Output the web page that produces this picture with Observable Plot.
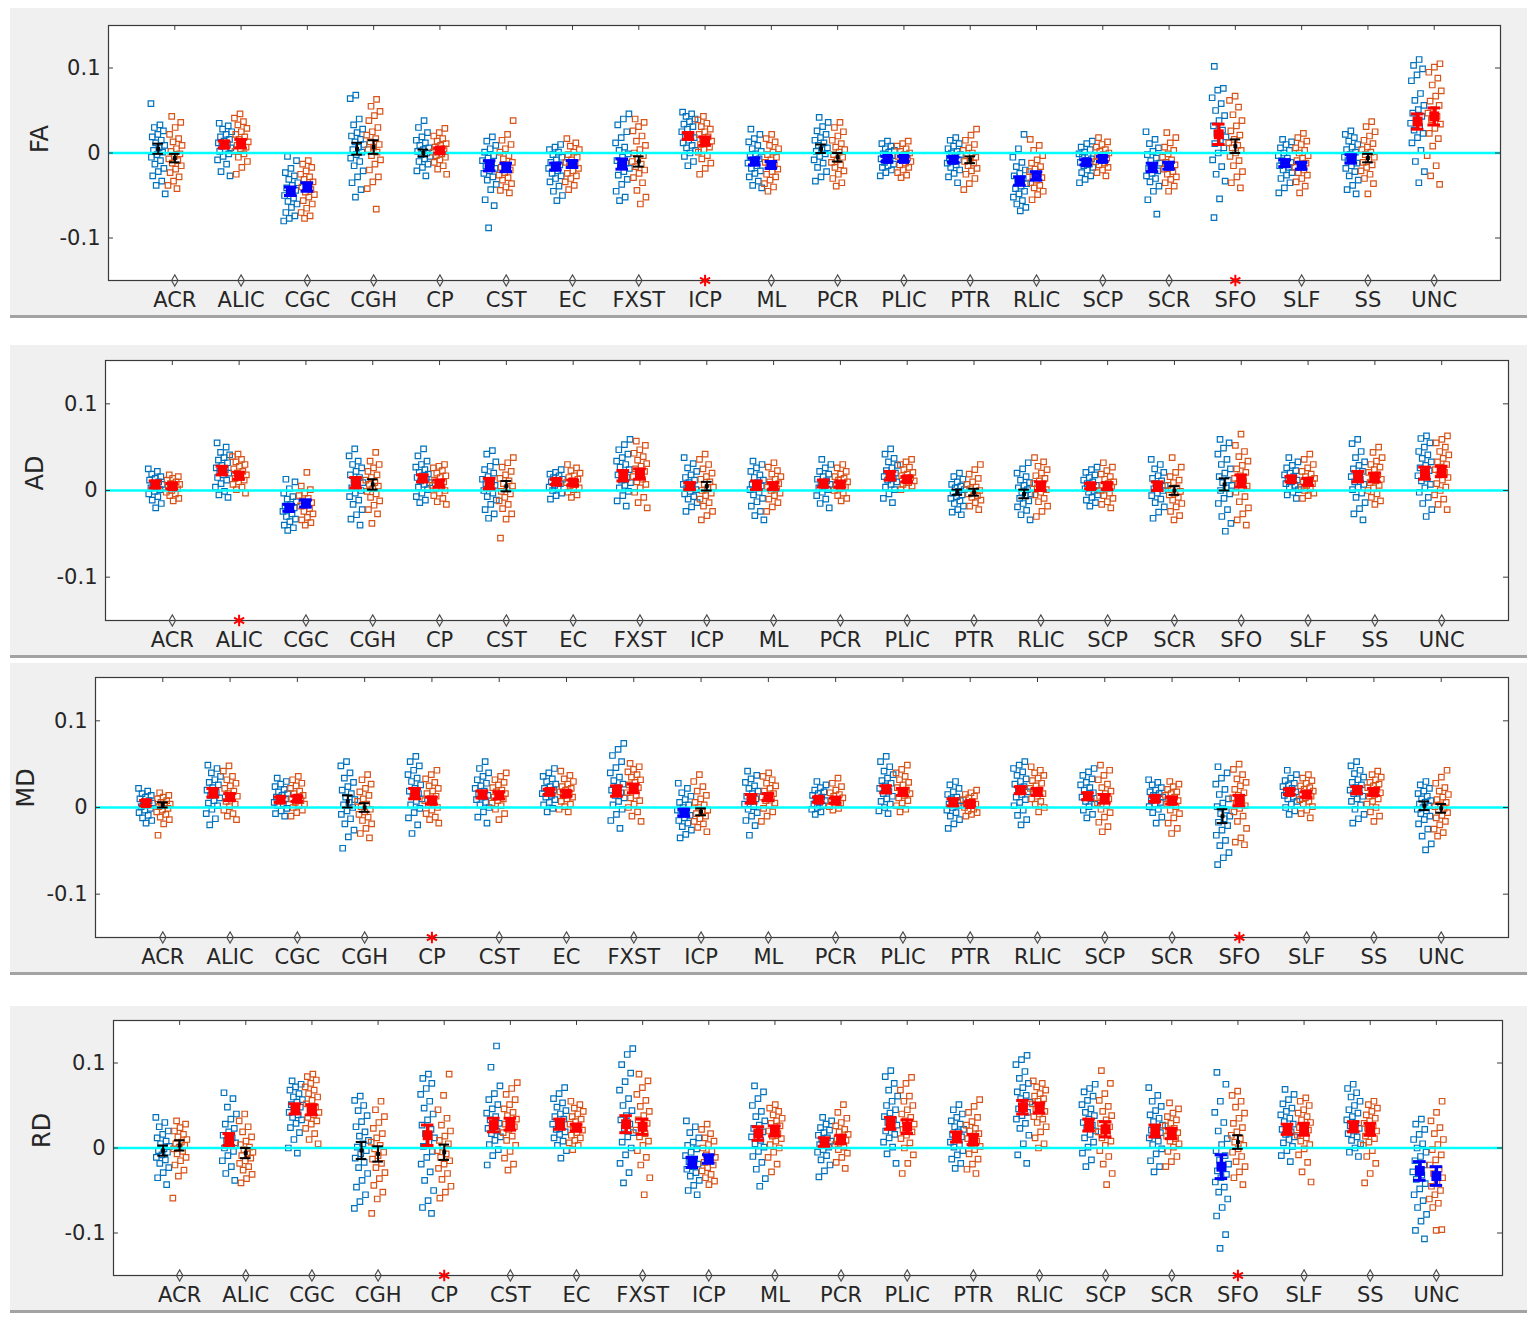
<!DOCTYPE html>
<html><head><meta charset="utf-8">
<script src="https://cdn.jsdelivr.net/npm/d3@7"></script>
<script src="https://cdn.jsdelivr.net/npm/@observablehq/plot@0.6"></script>
<style>
body{margin:0;background:#fff;}
#page{position:relative;width:1535px;height:1323px;overflow:hidden;font-family:"DejaVu Sans",sans-serif;}
.panel{position:absolute;left:10px;width:1517px;background:#f0f0f0;border-bottom:3px solid #a3a3a3;}
.panel svg{display:block;}
</style></head><body><div id="page"></div>
<script>
const categories = ["ACR","ALIC","CGC","CGH","CP","CST","EC","FXST","ICP","ML","PCR","PLIC","PTR","RLIC","SCP","SCR","SFO","SLF","SS","UNC"];
const yTicks = [-0.1, 0, 0.1];
const yTickLabels = ["-0.1", "0", "0.1"];
const measures = ["FA", "AD", "MD", "RD"];

// all values in thousandths; group1 = blue (left), group2 = orange (right)
const FA_group1 = [
 [58,33,30,26,22,19,15,12,9,6,3,1,-2,-5,-9,-13,-18,-22,-27,-33,-38,-48],
 [35,32,28,25,22,19,16,14,12,10,8,6,4,2,-1,-4,-8,-13,-22,-27],
 [-4,-9,-18,-23,-27,-31,-35,-38,-41,-44,-47,-50,-53,-57,-60,-64,-70,-74,-77,-80],
 [68,64,40,33,28,24,20,16,13,10,7,4,1,-2,-6,-10,-15,-21,-28,-35,-43,-52],
 [38,30,24,19,15,12,9,6,4,2,0,-2,-4,-7,-10,-13,-17,-21,-27],
 [19,14,9,5,1,-3,-6,-9,-12,-15,-18,-21,-24,-28,-32,-37,-43,-55,-62,-88],
 [10,7,4,1,-2,-5,-8,-11,-14,-16,-18,-21,-24,-27,-30,-34,-39,-45,-50,-56],
 [46,40,33,25,18,12,7,3,-1,-5,-9,-12,-15,-18,-22,-26,-31,-37,-45,-52,-56],
 [48,46,43,40,37,34,31,28,25,22,20,18,15,12,9,6,3,0,-4,-10,-15],
 [28,22,17,13,9,5,2,-1,-4,-7,-10,-12,-15,-18,-21,-24,-28,-33,-38,-41],
 [42,36,31,26,22,18,15,12,9,6,4,2,-1,-4,-8,-12,-17,-22,-28,-33],
 [14,11,8,5,3,1,-1,-3,-5,-7,-9,-11,-13,-15,-17,-20,-23,-27],
 [18,15,11,8,5,2,0,-2,-4,-6,-8,-10,-12,-14,-17,-20,-24,-28,-35],
 [22,5,-5,-11,-16,-20,-24,-27,-30,-33,-36,-39,-42,-45,-48,-52,-56,-60,-64,-68],
 [14,11,7,4,1,-1,-3,-5,-7,-9,-11,-13,-15,-17,-20,-23,-27,-31,-35],
 [25,16,11,6,2,-2,-6,-9,-12,-15,-18,-21,-24,-27,-30,-34,-39,-45,-55,-72],
 [102,76,74,65,58,50,44,38,32,27,23,19,15,11,6,0,-8,-16,-25,-33,-54,-76],
 [16,13,10,6,3,0,-3,-6,-9,-11,-13,-15,-17,-20,-23,-26,-30,-35,-41,-47],
 [26,22,18,14,10,7,4,1,-2,-5,-7,-9,-12,-15,-18,-22,-27,-32,-38,-43,-48],
 [110,103,99,92,85,70,62,56,51,47,43,39,35,31,27,23,18,12,3,-10,-22,-35]
];
const FA_group2 = [
 [43,36,30,22,17,13,9,5,2,-1,-4,-7,-9,-12,-15,-19,-23,-28,-33,-38,-42],
 [46,41,37,33,29,25,22,19,16,13,11,9,7,5,2,-1,-5,-10,-17,-25],
 [-9,-13,-17,-21,-25,-28,-31,-34,-37,-40,-43,-46,-49,-52,-56,-60,-65,-70,-74,-77],
 [63,55,49,44,38,30,25,21,17,13,10,7,4,1,-3,-8,-13,-20,-28,-34,-42,-66],
 [29,24,20,17,14,11,9,7,5,3,1,-1,-3,-5,-8,-11,-15,-19,-25],
 [38,22,15,10,5,1,-3,-7,-11,-14,-17,-20,-23,-26,-29,-32,-36,-40,-44,-47],
 [17,12,8,4,1,-2,-5,-8,-11,-13,-15,-18,-21,-24,-27,-30,-34,-38,-43],
 [40,36,31,26,20,14,9,4,0,-3,-7,-10,-13,-16,-20,-24,-29,-35,-44,-52,-60],
 [43,39,35,31,28,25,22,19,16,14,12,10,7,4,1,-3,-7,-12,-18,-25],
 [22,17,13,9,5,1,-2,-5,-8,-11,-14,-16,-19,-22,-25,-28,-32,-36,-40,-45],
 [36,30,25,20,15,11,7,4,1,-2,-5,-8,-11,-14,-17,-21,-25,-30,-35,-39],
 [14,11,8,5,2,0,-2,-4,-6,-8,-10,-12,-14,-17,-20,-23,-26,-29],
 [28,21,15,10,6,3,0,-3,-5,-8,-10,-12,-15,-18,-21,-25,-30,-36,-43],
 [16,9,3,-3,-8,-12,-16,-19,-22,-25,-27,-29,-32,-35,-38,-41,-45,-49,-55],
 [18,13,10,7,4,2,0,-2,-4,-6,-8,-10,-12,-14,-17,-20,-23,-27],
 [24,18,12,7,3,-1,-5,-8,-11,-14,-16,-19,-22,-25,-28,-31,-35,-39,-45],
 [67,62,54,45,38,32,26,21,16,12,9,6,3,0,-4,-9,-15,-22,-28,-35,-41],
 [23,18,14,10,6,3,0,-3,-6,-9,-12,-15,-17,-20,-23,-26,-30,-34,-39,-47],
 [37,31,25,20,15,11,7,4,1,-2,-5,-8,-11,-14,-17,-21,-25,-30,-36,-48],
 [105,101,95,88,80,73,67,61,56,51,47,43,39,34,29,23,17,8,-3,-15,-27,-37]
];
const FA_mean1 = [5,10,-45,5,0,-15,-16,-13,20,-10,5,-7,-8,-33,-11,-17,22,-12,-7,37];
const FA_mean2 = [-6,11,-40,7,3,-17,-13,-10,14,-14,-5,-7,-8,-27,-7,-15,8,-15,-6,43];
const FA_se1 = [6,4,5,7,4,6,4,6,4,4,5,3,3,5,3,5,12,4,5,9];
const FA_se2 = [5,5,5,8,3,5,4,6,5,4,5,3,4,5,3,4,8,4,5,10];
const FA_sig1 = ["k","r","b","k","k","b","b","b","r","b","k","b","b","b","b","b","r","b","b","r"];
const FA_sig2 = ["k","r","b","k","r","b","b","k","r","b","k","b","k","b","b","b","k","b","k","r"];
const FA_starred = ["ICP","SFO"];

const AD_group1 = [
 [25,22,19,16,14,12,10,8,7,5,3,1,-1,-4,-7,-11,-15,-20],
 [55,50,44,41,38,35,32,29,26,24,22,20,18,15,12,8,4,-1,-5,-8],
 [13,10,2,-3,-7,-10,-13,-16,-18,-20,-22,-24,-27,-30,-33,-36,-40,-43,-46],
 [48,40,34,30,26,22,18,15,12,9,6,3,0,-3,-7,-11,-16,-22,-28,-33,-40],
 [48,40,34,30,27,24,21,19,17,15,13,11,9,7,4,1,-3,-7,-11,-14],
 [46,42,33,28,24,20,16,13,10,8,6,3,0,-3,-7,-11,-16,-22,-27,-32],
 [24,21,19,17,15,13,11,10,8,6,4,2,0,-3,-6,-10],
 [59,53,47,42,38,34,30,27,24,21,18,15,12,9,6,3,-1,-6,-12,-18],
 [38,31,26,22,18,15,12,9,7,5,3,1,-1,-4,-7,-10,-14,-19,-24],
 [34,30,26,22,18,15,12,9,7,5,3,1,-2,-5,-9,-13,-18,-24,-29,-34],
 [36,30,26,22,19,16,13,11,9,7,5,3,1,-2,-6,-10,-15,-20],
 [48,42,37,33,29,26,23,20,18,16,14,12,10,7,4,1,-4,-9,-14],
 [20,16,13,10,7,5,3,1,-1,-3,-5,-7,-9,-12,-15,-18,-22,-25,-28],
 [32,25,20,16,12,9,6,3,1,-2,-4,-6,-9,-12,-15,-19,-23,-28,-34],
 [27,24,21,18,15,12,10,8,6,4,2,0,-2,-5,-8,-11,-14,-18],
 [36,30,25,21,17,14,11,8,6,4,2,0,-3,-6,-10,-14,-19,-25,-32],
 [59,55,49,42,36,30,25,20,16,12,9,6,3,0,-4,-9,-15,-22,-30,-38,-47],
 [38,33,29,26,23,20,18,16,14,12,10,8,6,4,1,-2,-5,-9],
 [59,54,45,38,33,29,25,22,19,16,13,10,7,4,1,-3,-8,-14,-21,-27,-34],
 [63,60,55,50,45,41,37,33,29,26,23,20,17,14,11,7,3,-2,-8,-15,-22,-30]
];
const AD_group2 = [
 [18,16,14,12,10,8,7,5,4,2,0,-2,-4,-6,-9,-12],
 [42,39,36,33,30,28,25,22,20,18,16,14,12,10,7,4,1,-3],
 [21,5,1,-3,-6,-9,-12,-14,-16,-18,-21,-24,-27,-31,-34,-37,-40],
 [44,34,30,26,22,18,15,12,9,7,5,2,-1,-4,-8,-12,-17,-22,-27,-38],
 [30,28,26,23,20,17,15,12,10,8,6,4,2,0,-3,-6,-9,-13,-16],
 [38,32,27,22,18,14,11,8,5,2,-1,-4,-8,-12,-16,-21,-27,-33,-55],
 [30,26,23,20,17,15,13,11,9,7,5,3,1,-2,-5,-8],
 [57,52,47,43,39,35,31,28,25,22,19,16,13,10,7,3,-2,-8,-14,-20],
 [42,36,30,25,20,16,13,10,7,4,2,0,-3,-6,-10,-14,-18,-24,-29,-34],
 [32,27,23,19,16,13,10,8,6,4,2,0,-3,-6,-10,-14,-19,-24],
 [30,26,22,19,16,14,12,10,8,6,4,2,0,-3,-6,-9,-12],
 [36,33,30,27,24,21,19,17,15,13,11,9,7,5,3,1],
 [30,24,19,14,10,7,4,2,0,-2,-4,-6,-8,-11,-14,-18,-22],
 [38,33,28,24,20,17,14,11,8,5,3,1,-2,-5,-9,-13,-18,-24,-30],
 [32,27,23,19,16,13,10,8,6,4,2,0,-3,-6,-9,-13,-16,-20],
 [38,27,21,16,12,9,6,3,1,-1,-3,-5,-8,-11,-15,-19,-24,-29,-34],
 [65,52,45,39,34,29,25,21,17,14,11,8,5,2,-2,-7,-13,-20,-27,-34,-40],
 [42,36,30,26,22,19,16,14,12,10,8,6,4,2,0,-3,-6,-9],
 [50,44,38,34,30,27,24,21,18,15,13,11,9,6,3,0,-4,-8,-12,-16],
 [63,59,55,50,45,41,37,33,30,27,24,21,18,15,12,8,4,0,-5,-10,-16,-22]
];
const AD_mean1 = [7,23,-20,9,14,8,10,17,5,6,8,17,-2,-4,5,5,7,13,16,20];
const AD_mean2 = [5,17,-15,7,8,5,9,19,5,5,7,13,-2,5,5,0,11,10,15,22];
const AD_se1 = [4,5,4,6,4,6,3,6,4,5,4,5,3,5,3,5,7,3,6,7];
const AD_se2 = [3,4,4,6,4,6,3,6,5,4,3,3,4,5,4,5,7,4,5,6];
const AD_sig1 = ["r","r","b","r","r","r","r","r","r","r","r","r","k","k","r","r","k","r","r","r"];
const AD_sig2 = ["r","r","b","k","r","k","r","r","k","r","r","r","k","r","r","k","r","r","r","r"];
const AD_starred = ["ALIC"];

const MD_group1 = [
 [22,19,16,14,12,10,8,6,5,3,1,-1,-3,-6,-9,-12,-15,-18],
 [49,45,40,36,32,29,26,23,20,17,14,11,8,5,2,-2,-7,-13,-20],
 [34,30,27,24,21,18,16,14,12,10,8,6,4,2,-1,-4,-7,-10],
 [53,48,40,34,29,24,20,16,12,9,6,3,0,-4,-8,-13,-19,-26,-34,-47],
 [59,53,48,43,38,34,30,26,22,19,16,13,10,7,3,-1,-6,-12,-20,-30],
 [53,45,40,36,32,28,25,22,19,16,14,12,9,6,3,0,-5,-11,-18],
 [45,40,36,33,30,27,24,22,20,18,16,14,12,9,6,3,-1,-5],
 [74,67,60,53,46,40,35,31,27,23,20,17,14,11,7,3,-2,-8,-15,-24],
 [28,22,17,13,9,6,3,0,-3,-5,-7,-9,-12,-15,-18,-22,-26,-31,-35],
 [42,37,33,29,25,22,19,16,13,10,7,4,1,-2,-6,-10,-15,-21,-32],
 [30,26,23,20,18,16,14,12,10,8,6,4,2,0,-2,-5,-8],
 [59,53,47,42,38,34,31,28,25,22,19,16,13,10,7,4,0,-4,-7],
 [30,26,22,18,15,12,10,8,6,4,2,0,-3,-6,-10,-14,-19,-24],
 [53,49,45,41,37,33,30,27,24,21,18,15,12,9,6,2,-3,-9,-14,-20],
 [45,41,37,33,29,26,23,20,17,14,12,10,7,4,1,-3,-8,-12],
 [32,29,26,23,20,18,16,14,12,10,8,6,4,1,-2,-6,-11,-18],
 [47,40,34,27,21,15,10,5,1,-3,-7,-10,-13,-17,-21,-26,-32,-38,-44,-52,-58,-66],
 [43,38,34,31,28,26,24,22,20,18,16,14,12,10,7,4,0,-4,-8],
 [53,48,43,39,35,32,29,26,23,20,18,16,13,10,7,3,-2,-8,-13,-18],
 [30,26,22,19,16,13,10,8,6,4,2,0,-2,-4,-7,-10,-14,-19,-25,-33,-42,-49]
];
const MD_group2 = [
 [17,14,12,10,8,6,4,3,1,-1,-3,-5,-8,-11,-14,-19,-32],
 [48,42,36,32,28,25,22,19,16,13,10,7,4,1,-3,-7,-10,-14],
 [36,32,28,25,22,19,16,14,12,10,8,6,4,2,0,-3,-6,-10],
 [38,32,27,22,18,14,10,7,4,1,-2,-5,-8,-11,-15,-19,-24,-30,-35],
 [43,38,33,29,25,22,19,16,13,10,8,6,3,0,-3,-7,-11,-14,-18],
 [40,36,32,29,26,23,20,18,16,14,12,10,8,5,2,-2,-7,-14],
 [42,37,33,30,27,24,22,20,18,16,14,12,10,7,4,1,-2,-5],
 [51,47,44,41,38,35,32,29,26,23,20,17,14,11,8,4,0,-5,-10,-16],
 [38,30,24,19,14,10,6,3,0,-3,-5,-7,-10,-13,-16,-19,-23,-28],
 [40,36,32,28,25,22,19,16,14,12,10,8,5,2,-1,-5,-10,-16],
 [34,28,24,20,17,15,13,11,9,7,5,3,1,-1,-3],
 [49,44,40,36,32,29,26,23,20,18,16,14,11,8,5,2,-2,-5],
 [20,17,15,13,11,9,7,5,4,2,0,-2,-4,-6,-8,-10],
 [47,43,40,37,34,31,28,25,22,20,18,16,13,10,7,4,0,-5],
 [49,43,37,32,27,23,19,16,13,10,8,5,2,-2,-6,-11,-17,-22,-28],
 [30,27,24,21,18,16,14,12,10,8,6,4,1,-3,-7,-12,-18,-24,-30],
 [50,44,38,33,29,25,21,17,14,11,8,5,2,-1,-5,-10,-16,-24,-35,-40,-43],
 [38,34,31,28,25,23,21,19,17,15,13,11,9,7,4,1,-3,-7,-12],
 [42,38,35,32,29,27,25,23,21,19,17,15,13,10,7,4,0,-5,-10,-16],
 [43,35,28,23,19,15,12,9,6,3,1,-1,-3,-6,-9,-12,-16,-20,-25,-29,-33]
];
const MD_mean1 = [5,17,9,7,16,15,18,19,-6,10,9,21,6,20,13,10,-10,18,20,2];
const MD_mean2 = [3,12,10,0,8,14,16,22,-5,12,8,18,4,18,10,8,8,15,18,-1];
const MD_se1 = [3,5,3,7,6,4,3,6,4,5,3,4,4,4,4,3,8,3,4,5];
const MD_se2 = [3,4,3,5,4,4,3,5,4,4,3,4,2,4,5,4,6,3,4,5];
const MD_sig1 = ["r","r","r","k","r","r","r","r","b","r","r","r","r","r","r","r","k","r","r","k"];
const MD_sig2 = ["k","r","r","k","r","r","r","r","k","r","r","r","r","r","r","r","r","r","r","k"];
const MD_starred = ["CP","SFO"];

const RD_group1 = [
 [36,30,25,20,16,12,8,5,2,-1,-3,-5,-8,-11,-14,-18,-23,-29,-35,-43],
 [65,58,48,40,34,28,23,19,15,12,9,6,3,0,-4,-9,-15,-22,-30,-38],
 [79,75,72,68,64,60,57,54,51,48,45,42,39,36,33,29,24,18,10,0,-6],
 [61,56,50,44,38,31,25,19,14,9,5,1,-3,-7,-12,-17,-23,-30,-38,-46,-55,-63,-71],
 [87,82,76,70,63,55,47,40,33,27,22,17,12,7,2,-4,-11,-19,-28,-38,-50,-62,-70,-77],
 [120,95,73,64,57,51,46,41,37,33,29,26,23,20,17,13,9,4,-2,-9,-20],
 [71,64,58,53,48,44,40,37,34,31,28,25,22,19,16,12,8,3,-3,-12],
 [117,110,98,88,78,68,58,50,44,38,33,28,23,18,13,7,0,-8,-18,-29,-41],
 [32,25,18,12,7,3,-1,-5,-9,-13,-16,-19,-22,-25,-29,-33,-38,-44,-50,-55],
 [73,66,58,50,43,37,32,27,23,19,16,13,9,5,1,-4,-10,-17,-25,-36,-45],
 [36,32,28,24,21,18,15,12,10,8,6,4,1,-2,-5,-9,-14,-20,-27,-34],
 [91,84,76,68,61,55,50,45,41,37,33,30,27,24,20,16,12,7,1,-7,-18],
 [51,45,40,36,32,28,25,22,19,16,13,10,7,4,1,-3,-8,-13,-18,-24],
 [109,104,98,90,82,76,71,66,62,58,54,50,46,42,38,34,29,23,15,5,-8,-18],
 [75,70,66,61,56,51,46,42,38,34,30,27,24,20,16,12,7,1,-6,-14,-22],
 [71,62,55,49,44,39,35,31,27,24,21,18,15,12,8,4,-1,-7,-15,-22,-28],
 [89,75,55,42,30,20,11,4,-3,-9,-14,-19,-23,-27,-31,-35,-40,-46,-52,-60,-70,-80,-102,-118],
 [69,63,57,52,47,43,39,35,31,28,25,22,19,16,13,10,6,2,-3,-9,-16],
 [75,70,65,60,55,50,45,41,37,33,29,26,23,20,17,13,9,5,0,-5,-10],
 [34,28,22,16,10,5,0,-5,-10,-15,-20,-24,-28,-32,-37,-42,-48,-55,-62,-70,-78,-86,-97,-107]
];
const RD_group2 = [
 [32,28,24,20,16,13,10,7,5,3,1,-1,-4,-7,-11,-15,-20,-26,-33,-59],
 [40,32,25,19,13,8,4,1,-2,-5,-7,-9,-12,-15,-18,-22,-26,-31,-36,-41],
 [87,84,80,76,72,68,64,60,56,52,48,45,42,39,36,32,28,23,17,10,5],
 [55,45,37,30,23,17,12,7,3,-1,-5,-9,-13,-18,-23,-29,-36,-44,-52,-60,-77],
 [87,62,45,35,27,20,14,9,5,1,-3,-7,-11,-15,-19,-24,-30,-37,-45,-52,-59],
 [77,70,63,57,51,46,42,38,34,31,28,25,22,18,14,9,3,-4,-12,-19,-26],
 [55,51,47,43,40,37,34,31,28,25,23,21,18,15,12,9,6,3,-2],
 [87,79,71,63,56,49,43,38,33,29,25,21,17,13,8,3,-3,-11,-20,-35,-55],
 [28,22,17,12,8,4,0,-4,-8,-11,-14,-17,-20,-23,-27,-31,-35,-39,-43],
 [51,47,43,39,35,32,29,26,23,20,17,14,11,8,4,0,-5,-11,-19,-28],
 [51,42,35,30,26,22,19,16,13,11,9,7,4,1,-2,-6,-11,-17,-24],
 [83,76,68,61,55,50,45,40,36,32,28,25,22,19,15,11,6,0,-8,-18,-30],
 [57,49,42,36,31,27,23,20,17,14,11,8,5,2,-2,-7,-13,-19,-25,-30],
 [79,76,72,68,64,61,58,55,52,49,46,43,40,37,34,30,25,19,12,5,0],
 [91,76,64,56,49,43,38,33,29,25,22,19,16,12,8,3,-3,-10,-19,-30,-43],
 [53,46,41,37,33,29,26,23,20,18,16,14,11,8,5,1,-4,-10,-16,-22],
 [67,62,55,48,41,35,29,24,19,15,11,7,3,-1,-5,-10,-16,-22,-28,-35,-43],
 [59,55,50,45,41,37,33,30,27,24,21,18,15,12,8,4,-1,-8,-17,-28,-40],
 [55,51,47,43,39,35,32,29,26,23,20,17,14,11,7,3,-3,-10,-18,-30,-41],
 [55,42,32,24,17,10,4,-2,-8,-14,-20,-25,-30,-35,-40,-45,-50,-55,-60,-65,-70,-96,-97]
];
const RD_mean1 = [-3,10,46,-3,15,27,28,28,-17,17,7,29,13,48,27,20,-22,22,25,-27];
const RD_mean2 = [3,-6,45,-7,-5,28,24,25,-13,20,10,25,10,47,22,17,7,22,22,-33];
const RD_se1 = [6,7,6,10,12,8,6,10,6,8,5,7,6,8,7,7,14,6,6,11];
const RD_se2 = [6,6,6,9,9,7,4,9,5,6,5,8,6,6,9,6,8,7,7,11];
const RD_sig1 = ["k","r","r","k","r","r","r","r","b","r","r","r","r","r","r","r","b","r","r","b"];
const RD_sig2 = ["k","k","r","k","k","r","r","r","b","r","r","r","r","r","r","r","k","r","r","b"];
const RD_starred = ["CP","SFO"];

const panels = [
  {name: "FA", g1: FA_group1, g2: FA_group2, m1: FA_mean1, m2: FA_mean2, s1: FA_se1, s2: FA_se2, c1: FA_sig1, c2: FA_sig2, star: FA_starred},
  {name: "AD", g1: AD_group1, g2: AD_group2, m1: AD_mean1, m2: AD_mean2, s1: AD_se1, s2: AD_se2, c1: AD_sig1, c2: AD_sig2, star: AD_starred},
  {name: "MD", g1: MD_group1, g2: MD_group2, m1: MD_mean1, m2: MD_mean2, s1: MD_se1, s2: MD_se2, c1: MD_sig1, c2: MD_sig2, star: MD_starred},
  {name: "RD", g1: RD_group1, g2: RD_group2, m1: RD_mean1, m2: RD_mean2, s1: RD_se1, s2: RD_se2, c1: RD_sig1, c2: RD_sig2, star: RD_starred}
];

const layouts = [
  {top: 8, height: 307, ml: 98, mr: 27, mt: 17, mb: 35, labelDx: -68},
  {top: 345, height: 310, ml: 95, mr: 19, mt: 15, mb: 35, labelDx: -70},
  {top: 663, height: 309, ml: 85, mr: 19, mt: 14, mb: 35, labelDx: -69},
  {top: 1006, height: 304, ml: 103, mr: 25, mt: 14, mb: 35, labelDx: -71}
];

const groupColors = ["#0072BD", "#D95319"];
const codeColors = {r: "#ff0000", b: "#0000ff", k: "#000000"};
const groupOffset = [-0.25, 0];
const jitter = (k, ci, gi) => ((((k * 0.6180339887) + ci * 0.137 + gi * 0.29) % 1) - 0.5) * 0.22;

const page = document.getElementById("page");
const idx = d3.range(1, categories.length + 1);

panels.forEach((p, pi) => {
  const L = layouts[pi];
  const pts = [];
  [p.g1, p.g2].forEach((grp, gi) => grp.forEach((vals, ci) => vals.forEach((v, k) => {
    pts.push({g: gi, x: ci + 1 + groupOffset[gi] + jitter(k, ci, gi), y: v / 1000});
  })));
  const means = [];
  [[p.m1, p.s1, p.c1], [p.m2, p.s2, p.c2]].forEach(([m, s, c], gi) => m.forEach((v, ci) => {
    means.push({x: ci + 1 + groupOffset[gi], y: v / 1000, se: s[ci] / 1000, code: c[ci]});
  }));
  const starIdx = idx.filter(i => p.star.includes(categories[i - 1]));
  const plainIdx = idx.filter(i => !p.star.includes(categories[i - 1]));

  const marks = [
    Plot.frame({fill: "white", stroke: null}),
    Plot.dot(pts.filter(d => d.g === 0), {x: "x", y: "y", symbol: "square", r: 3.1, stroke: groupColors[0], strokeWidth: 1.2, fill: "none"}),
    Plot.dot(pts.filter(d => d.g === 1), {x: "x", y: "y", symbol: "square", r: 3.1, stroke: groupColors[1], strokeWidth: 1.2, fill: "none"}),
    Plot.ruleY([0], {stroke: "#00ffff", strokeWidth: 2.5})
  ];
  ["k", "r", "b"].forEach(code => {
    const md = means.filter(d => d.code === code);
    const col = codeColors[code];
    const big = code !== "k";
    const cap = big ? 0.095 : 0.08;
    marks.push(
      Plot.ruleX(md, {x: "x", y1: d => d.y - d.se, y2: d => d.y + d.se, stroke: col, strokeWidth: big ? 3.5 : 2}),
      Plot.ruleY(md, {y: d => d.y - d.se, x1: d => d.x - cap, x2: d => d.x + cap, stroke: col, strokeWidth: big ? 3 : 2}),
      Plot.ruleY(md, {y: d => d.y + d.se, x1: d => d.x - cap, x2: d => d.x + cap, stroke: col, strokeWidth: big ? 3 : 2}),
      Plot.dot(md, {x: "x", y: "y", symbol: "square", r: big ? 5.6 : 2.2, fill: col, stroke: null})
    );
  });
  marks.push(
    Plot.frame({stroke: "#3a3a3a", strokeWidth: 1.2}),
    // inward ticks (MATLAB style)
    Plot.ruleY(yTicks, {y: d => d, x1: 0, x2: 0.075, stroke: "#3a3a3a"}),
    Plot.ruleY(yTicks, {y: d => d, x1: 21 - 0.075, x2: 21, stroke: "#3a3a3a"}),
    Plot.ruleX(idx, {x: d => d, y1: 0.15, y2: 0.1442, stroke: "#3a3a3a"}),
    Plot.axisY(yTicks, {anchor: "left", tickSize: 0, tickPadding: 8, tickFormat: d => yTickLabels[yTicks.indexOf(d)], fontSize: 21, fill: "#262626", label: null}),
    Plot.axisX(idx, {anchor: "bottom", tickSize: 0, tickPadding: 12, tickFormat: d => categories[d - 1], fontSize: 21, fill: "#262626", label: null}),
    Plot.dot(plainIdx, {x: d => d, frameAnchor: "bottom", symbol: "diamond", r: 3.4, stroke: "#4a4a4a", strokeWidth: 1.1, fill: "none"}),
    Plot.dot(starIdx, {x: d => d, frameAnchor: "bottom", symbol: "asterisk", r: 5.5, stroke: "#ff0000", strokeWidth: 2}),
    Plot.text([p.name], {text: d => d, frameAnchor: "left", dx: L.labelDx, rotate: -90, fontSize: 24, fill: "#262626"})
  );

  const chart = Plot.plot({
    width: 1517,
    height: L.height,
    marginLeft: L.ml, marginRight: L.mr, marginTop: L.mt, marginBottom: L.mb,
    x: {domain: [0, 21], axis: null},
    y: {domain: [-0.15, 0.15], axis: null},
    style: {background: "transparent", fontFamily: "DejaVu Sans, sans-serif", color: "#262626", overflow: "visible"},
    marks
  });
  const div = document.createElement("div");
  div.className = "panel";
  div.style.top = L.top + "px";
  div.style.height = L.height + "px";
  div.appendChild(chart);
  page.appendChild(div);
});
</script></body></html>
